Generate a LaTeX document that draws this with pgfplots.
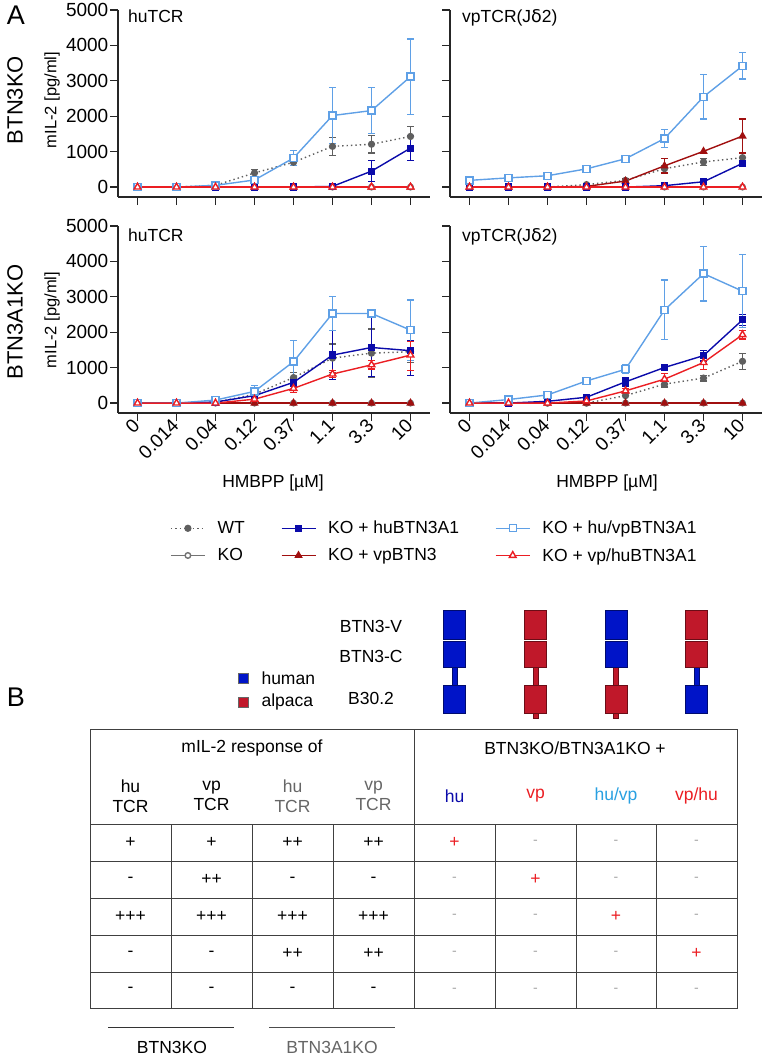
\documentclass[border=0pt]{standalone}
\usepackage{pgfplots}
\pgfplotsset{compat=1.18}
\usepackage{fontspec}
\setmainfont{Liberation Sans}
\definecolor{cWT}{RGB}{95,95,95}
\definecolor{cKO}{RGB}{115,115,115}
\definecolor{cHU}{RGB}{10,10,170}
\definecolor{cVP}{RGB}{160,15,15}
\definecolor{cHUVP}{RGB}{95,160,230}
\definecolor{cVPHU}{RGB}{235,30,35}
\definecolor{sBlue}{RGB}{0,20,200}
\definecolor{sRed}{RGB}{192,24,42}
\definecolor{tHUVP}{RGB}{40,160,225}
\newcommand\fs[1]{\fontsize{#1}{#1}\selectfont}
\pgfplotsset{
 wt/.style={color=cWT, dash pattern=on 1.4pt off 3pt, line width=1.4pt, mark=*, mark size=2.9pt, mark options={solid, fill=cWT}},
 ko/.style={color=cKO, solid, line width=1.4pt, mark=*, mark size=2.8pt, mark options={solid, fill=white}},
 hu/.style={color=cHU, solid, line width=1.4pt, mark=square*, mark size=2.9pt, mark options={solid, fill=cHU}},
 vp/.style={color=cVP, solid, line width=1.4pt, mark=triangle*, mark size=3.5pt, mark options={solid, fill=cVP}},
 huvp/.style={color=cHUVP, solid, line width=1.4pt, mark=square*, mark size=3.5pt, mark options={solid, fill=white}},
 vphu/.style={color=cVPHU, solid, line width=1.4pt, mark=triangle*, mark size=3.9pt, mark options={solid, fill=white}},
 ebar/.style={forget plot, draw=none, mark=none, error bars/.cd, y dir=both, y explicit,
   error bar style={draw=#1, solid, line width=1.2pt},
   error mark options={draw=#1, rotate=90, mark size=3.5pt, line width=1.2pt, solid}},
 panel/.style={scale only axis, width=312pt, height=187pt, xmin=-0.5, xmax=7.5, ymin=-280, ymax=5000,
   axis lines=left, axis line style={-, line width=1.7pt, black!85},
   tick style={line width=1.3pt, black!85},
   tick align=outside, major tick length=8pt,
   xtick={0,...,7}, ytick={0,1000,2000,3000,4000,5000},
   yticklabels={0,1000,2000,3000,4000,5000},
   xticklabels={},
   tick label style={font=\fs{19}},
   yticklabel style={inner sep=1.5pt},
   clip=false, /pgf/number format/assume math mode=true},
 bottomx/.style={xticklabels={0,0.014,0.04,0.12,0.37,1.1,3.3,10},
   xticklabel style={rotate=45, anchor=east, inner sep=1.5pt}},
}
\begin{document}
\begin{tikzpicture}
\path[use as bounding box] (0pt,0pt) rectangle (762pt,-1059pt);

% ---------- top left: BTN3KO, huTCR
\begin{axis}[panel, at={(118pt,-197pt)}, anchor=south west]
\addplot[ebar=cWT] coordinates {(3,400) +- (0,90) (4,700) +- (0,100) (5,1150) +- (0,250) (6,1210) +- (0,250) (7,1430) +- (0,270)};
\addplot[wt] coordinates {(0,0) (1,0) (2,50) (3,400) (4,700) (5,1150) (6,1210) (7,1430)};
\addplot[ko] coordinates {(0,0) (1,0) (2,0) (3,0) (4,0) (5,0) (6,0) (7,0)};
\addplot[vp] coordinates {(0,0) (1,0) (2,0) (3,0) (4,0) (5,0) (6,0) (7,0)};
\addplot[ebar=cHU] coordinates {(6,450) +- (0,290) (7,1100) +- (0,340)};
\addplot[hu] coordinates {(0,0) (1,0) (2,0) (3,0) (4,0) (5,20) (6,450) (7,1100)};
\addplot[ebar=cHUVP] coordinates {(4,820) +- (0,220) (5,2020) +- (0,800) (6,2160) +- (0,650) (7,3120) +- (0,1060)};
\addplot[huvp] coordinates {(0,0) (1,0) (2,50) (3,200) (4,820) (5,2020) (6,2160) (7,3120)};
\addplot[vphu] coordinates {(0,0) (1,0) (2,0) (3,0) (4,0) (5,0) (6,0) (7,0)};
\end{axis}

% ---------- top right: BTN3KO, vpTCR
\begin{axis}[panel, yticklabels={}, at={(450pt,-197pt)}, anchor=south west]
\addplot[ebar=cWT] coordinates {(5,520) +- (0,100) (6,710) +- (0,100) (7,830) +- (0,140)};
\addplot[wt] coordinates {(0,0) (1,0) (2,0) (3,70) (4,190) (5,520) (6,710) (7,830)};
\addplot[ko] coordinates {(0,0) (1,0) (2,0) (3,0) (4,0) (5,0) (6,0) (7,0)};
\addplot[ebar=cVP] coordinates {(4,170) +- (0,60) (5,600) +- (0,200) (7,1440) +- (0,480)};
\addplot[vp] coordinates {(0,0) (1,0) (2,0) (3,20) (4,170) (5,600) (6,1010) (7,1440)};
\addplot[ebar=cHU] coordinates {(7,670) +- (0,80)};
\addplot[hu] coordinates {(0,0) (1,0) (2,0) (3,0) (4,0) (5,40) (6,150) (7,670)};
\addplot[ebar=cHUVP] coordinates {(4,800) +- (0,90) (5,1370) +- (0,260) (6,2550) +- (0,630) (7,3420) +- (0,370)};
\addplot[huvp] coordinates {(0,190) (1,260) (2,320) (3,515) (4,800) (5,1370) (6,2550) (7,3420)};
\addplot[vphu] coordinates {(0,0) (1,0) (2,0) (3,0) (4,0) (5,0) (6,0) (7,0)};
\end{axis}

% ---------- bottom left: BTN3A1KO, huTCR
\begin{axis}[panel, bottomx, at={(118pt,-413pt)}, anchor=south west]
\addplot[ebar=cWT] coordinates {(4,720) +- (0,150) (5,1270) +- (0,400) (6,1410) +- (0,680) (7,1450) +- (0,300)};
\addplot[wt] coordinates {(0,0) (1,0) (2,20) (3,250) (4,720) (5,1270) (6,1410) (7,1450)};
\addplot[ko] coordinates {(0,0) (1,0) (2,0) (3,0) (4,0) (5,0) (6,0) (7,0)};
\addplot[vp] coordinates {(0,0) (1,0) (2,0) (3,0) (4,0) (5,0) (6,0) (7,0)};
\addplot[ebar=cHU] coordinates {(4,585) +- (0,100) (5,1355) +- (0,690) (6,1570) += (0,1030) -= (0,820) (7,1480) += (0,280) -= (0,710)};
\addplot[hu] coordinates {(0,0) (1,0) (2,30) (3,210) (4,585) (5,1355) (6,1570) (7,1480)};
\addplot[ebar=cHUVP] coordinates {(3,330) +- (0,170) (4,1170) +- (0,600) (5,2530) +- (0,470) (6,2530) +- (0,80) (7,2060) +- (0,850)};
\addplot[huvp] coordinates {(0,0) (1,0) (2,85) (3,330) (4,1170) (5,2530) (6,2530) (7,2060)};
\addplot[ebar=cVPHU] coordinates {(4,415) +- (0,120) (5,820) +- (0,100) (6,1080) +- (0,120) (7,1355) += (0,385) -= (0,445)};
\addplot[vphu] coordinates {(0,0) (1,0) (2,0) (3,110) (4,415) (5,820) (6,1080) (7,1355)};
\end{axis}

% ---------- bottom right: BTN3A1KO, vpTCR
\begin{axis}[panel, bottomx, yticklabels={}, at={(450pt,-413pt)}, anchor=south west]
\addplot[ebar=cWT] coordinates {(5,535) +- (0,80) (6,705) +- (0,80) (7,1180) +- (0,230)};
\addplot[wt] coordinates {(0,0) (1,0) (2,0) (3,0) (4,210) (5,535) (6,705) (7,1180)};
\addplot[ko] coordinates {(0,0) (1,0) (2,0) (3,0) (4,0) (5,0) (6,0) (7,0)};
\addplot[vp] coordinates {(0,0) (1,0) (2,0) (3,0) (4,0) (5,0) (6,0) (7,0)};
\addplot[ebar=cHU] coordinates {(4,600) +- (0,120) (6,1340) +- (0,150) (7,2350) +- (0,150)};
\addplot[hu] coordinates {(0,0) (1,0) (2,50) (3,165) (4,600) (5,1005) (6,1340) (7,2350)};
\addplot[ebar=cHUVP] coordinates {(2,230) +- (0,80) (4,955) +- (0,120) (5,2630) +- (0,845) (6,3655) +- (0,775) (7,3160) +- (0,1030)};
\addplot[huvp] coordinates {(0,0) (1,100) (2,230) (3,625) (4,955) (5,2630) (6,3655) (7,3160)};
\addplot[ebar=cVPHU] coordinates {(4,345) +- (0,60) (5,675) +- (0,150) (6,1145) +- (0,200) (7,1930) +- (0,120)};
\addplot[vphu] coordinates {(0,0) (1,0) (2,0) (3,60) (4,345) (5,675) (6,1145) (7,1930)};
\end{axis}

% ---------- legend
\begin{axis}[at={(170pt,-520pt)}, anchor=north west, hide axis, scale only axis, width=1pt, height=1pt,
  xmin=0, xmax=1, ymin=0, ymax=1,
  legend columns=3, legend cell align=left,
  legend image code/.code={\draw[mark repeat=2,mark phase=2,#1] plot coordinates {(0pt,0pt) (17pt,0pt) (34pt,0pt)};},
  legend style={at={(0,1)}, anchor=north west, draw=none, fill=none, font=\fs{17.5},
    inner sep=0pt, row sep=11pt, nodes={inner sep=1pt},
    /tikz/every odd column/.append style={column sep=11pt},
    /tikz/every even column/.append style={column sep=35pt}}]
\addlegendimage{wt}\addlegendentry{WT}
\addlegendimage{hu}\addlegendentry{KO + huBTN3A1}
\addlegendimage{huvp}\addlegendentry{KO + hu/vpBTN3A1}
\addlegendimage{ko}\addlegendentry{KO}
\addlegendimage{vp}\addlegendentry{KO + vpBTN3}
\addlegendimage{vphu}\addlegendentry{KO + vp/huBTN3A1}
\end{axis}

\begin{scope}[x=1pt, y=-1pt]
% panel labels and axis titles
\node[font=\fs{27}] at (16,15) {A};
\node[font=\fs{27}] at (16,697) {B};
\node[font=\fs{22}, rotate=90] at (15,100) {BTN3KO};
\node[font=\fs{22}, rotate=90] at (15,322) {BTN3A1KO};
\node[font=\fs{16.5}, rotate=90] at (52,100) {mIL-2 [pg/ml]};
\node[font=\fs{16.5}, rotate=90] at (52,320) {mIL-2 [pg/ml]};
\node[font=\fs{17.5}, anchor=base west, inner sep=0pt] at (128,23) {huTCR};
\node[font=\fs{17.5}, anchor=base west, inner sep=0pt] at (462,23) {vpTCR(J\fontspec{DejaVu Sans}δ\fontspec{Liberation Sans}2)};
\node[font=\fs{17.5}, anchor=base west, inner sep=0pt] at (128,241) {huTCR};
\node[font=\fs{17.5}, anchor=base west, inner sep=0pt] at (462,241) {vpTCR(J\fontspec{DejaVu Sans}δ\fontspec{Liberation Sans}2)};
\node[font=\fs{17.5}] at (273,483) {HMBPP [µM]};
\node[font=\fs{17.5}] at (607,483) {HMBPP [µM]};

% schematic
\newcommand\schem[4]{%
 \draw[fill=#3, draw=#3!55!black, line width=0.7pt] (#1-2.5,666) rectangle (#1+2.5,686);
 \draw[fill=#2, draw=#2!55!black, line width=0.7pt] (#1-11,610) rectangle (#1+11,639);
 \draw[fill=#2, draw=#2!55!black, line width=0.7pt] (#1-11,641) rectangle (#1+11,667);
 \draw[fill=#4, draw=#4!55!black, line width=0.7pt] (#1-11,685) rectangle (#1+11,713);}
\draw[fill=sRed, draw=sRed!55!black, line width=0.7pt] (535.5-2.5,713) rectangle (535.5+2.5,718);
\draw[fill=sRed, draw=sRed!55!black, line width=0.7pt] (616-2.5,713) rectangle (616+2.5,718);
\schem{454.5}{sBlue}{sBlue}{sBlue}
\schem{535.5}{sRed}{sRed}{sRed}
\schem{616}{sBlue}{sRed}{sRed}
\schem{696.5}{sRed}{sBlue}{sBlue}
\node[font=\fs{17.5}] at (371,626) {BTN3-V};
\node[font=\fs{17.5}] at (371,656) {BTN3-C};
\node[font=\fs{17.5}] at (371,698) {B30.2};
\draw[fill=sBlue, draw=black!60] (238,673) rectangle (248,683);
\draw[fill=sRed, draw=black!60] (238,697) rectangle (248,707);
\node[font=\fs{17.5}, anchor=west] at (258,678) {human};
\node[font=\fs{17.5}, anchor=west] at (258,702) {alpaca};

% table
\draw[line width=0.9pt, black!75] (90,729) rectangle (737,1008);
\draw[line width=0.9pt, black!75] (414,729) -- (414,1008);
\foreach \y in {824,861,898,935,972} \draw[line width=0.9pt, black!75] (90,\y) -- (737,\y);
\foreach \x in {171,252,333,495,576,656} \draw[line width=0.9pt, black!75] (\x,824) -- (\x,1008);
\node[font=\fs{17.5}] at (252,748) {mIL-2 response of};
\node[font=\fs{17.5}] at (575,748) {BTN3KO/BTN3A1KO +};
\node[font=\fs{17.5}, align=center] at (130.5,796) {hu\\[2pt]TCR};
\node[font=\fs{17.5}, align=center] at (211.5,796) {vp\\[2pt]TCR};
\node[font=\fs{17.5}, align=center, text=black!60] at (292.5,796) {hu\\[2pt]TCR};
\node[font=\fs{17.5}, align=center, text=black!60] at (373.5,796) {vp\\[2pt]TCR};
\node[font=\fs{17.5}, text=cHU] at (454.5,796) {hu};
\node[font=\fs{17.5}, text=cVPHU] at (535.5,796) {vp};
\node[font=\fs{17.5}, text=tHUVP] at (616,796) {hu/vp};
\node[font=\fs{17.5}, text=cVPHU] at (696.5,796) {vp/hu};
% body rows
\foreach \y/\a/\b/\c/\d in {842.5/+/+/++/++, 879.5/-/++/-/-, 916.5/+++/+++/+++/+++, 953.5/-/-/++/++, 990/-/-/-/-}{
  \node[font=\fs{17.5}] at (130.5,\y) {\a};
  \node[font=\fs{17.5}] at (211.5,\y) {\b};
  \node[font=\fs{17.5}] at (292.5,\y) {\c};
  \node[font=\fs{17.5}] at (373.5,\y) {\d};
}
\foreach \y/\k in {842.5/1, 879.5/2, 916.5/3, 953.5/4, 990/0}{
  \foreach \x [count=\i] in {454.5,535.5,616,696.5}{
    \ifnum\i=\k
      \node[font=\fs{17.5}, text=cVPHU] at (\x,\y) {+};
    \else
      \node[font=\fs{14}, text=black!35] at (\x,\y) {-};
    \fi
  }
}
\draw[line width=0.9pt, black!80] (108,1027) -- (234,1027);
\draw[line width=0.9pt, black!70] (269,1027) -- (395,1027);
\node[font=\fs{17.5}] at (172,1047) {BTN3KO};
\node[font=\fs{17.5}, text=black!60] at (332,1047) {BTN3A1KO};
\end{scope}
\end{tikzpicture}
\end{document}
